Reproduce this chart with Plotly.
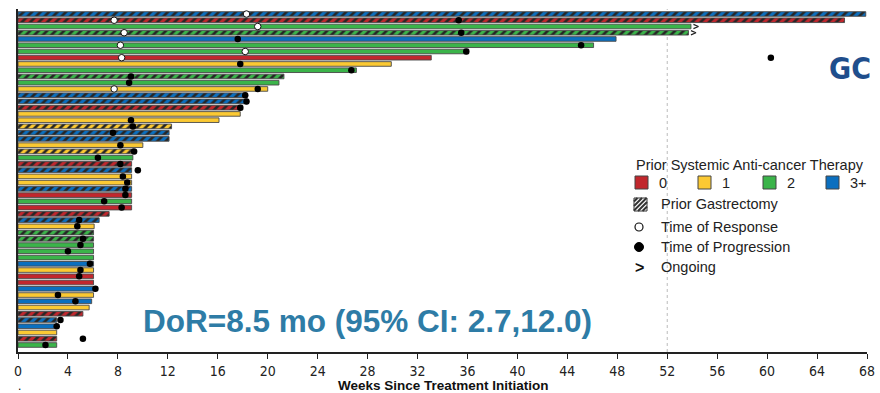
import plotly.graph_objects as go

# ---------------- data ----------------
therapy_labels = ["0", "1", "2", "3+"]
therapy = [3, 0, 2, 2, 3, 2, 2, 0, 1, 2, 2, 2, 1, 3, 3, 0, 1, 1, 1, 3, 3, 1, 1, 2, 0, 3, 1,
           1, 3, 0, 2, 0, 0, 3, 1, 2, 2, 2, 2, 2, 3, 1, 0, 0, 3, 1, 3, 1, 0, 3, 3, 1, 0, 2]
gastrectomy = [1, 1, 0, 1, 0, 0, 0, 0, 0, 0, 1, 0, 0, 1, 1, 1, 0, 0, 1, 1, 1, 0, 1, 0, 1, 1, 0,
               0, 1, 0, 0, 0, 1, 1, 0, 1, 1, 0, 0, 0, 0, 0, 0, 0, 0, 0, 0, 0, 1, 1, 0, 0, 1, 0]
duration = [67.9, 66.2, 53.9, 53.7, 47.9, 46.1, 36.1, 33.1, 29.9, 27.1, 21.3, 20.9, 20.0, 18.3,
            18.4, 18.0, 17.8, 16.1, 12.3, 12.1, 12.1, 10.0, 9.3, 9.2, 9.1, 9.1, 9.1, 9.1, 9.1,
            9.1, 9.1, 9.1, 7.3, 6.5, 6.1, 6.05, 6.05, 6.05, 6.05, 6.05, 6.05, 6.05, 6.05, 6.05,
            6.2, 6.05, 5.9, 5.7, 5.2, 3.1, 2.9, 3.1, 3.1, 3.1]
response = [18.3, 7.7, 19.2, 8.5, None, 8.2, 18.2, 8.3, None, None, None, None, 7.7, None,
            None, None, None, None, None, None, None, None, None, None, None, None, None,
            None, None, None, None, None, None, None, None, None, None, None, None, None,
            None, None, None, None, None, None, None, None, None, None, None, None, None, None]
progression = [None, 35.3, None, 35.5, 17.6, 45.1, 35.9, 60.3, 17.8, 26.7, 9.05, 8.9, 19.2,
               18.2, 18.3, 17.8, None, 9.05, 9.2, 7.6, None, 8.2, 9.3, 6.4, 8.2, 9.6, 8.4,
               8.75, 8.6, 8.6, 6.9, 8.3, None, 4.9, 4.75, None, 5.2, 5.0, 4.0, None, 5.76,
               5.0, 4.9, None, 6.2, 3.2, 4.6, None, None, 3.4, 3.1, None, 5.2, 2.2]
ongoing = [1, 0, 1, 1] + [0] * 50
x_ticks = list(range(0, 69, 4))

# ---------------- styles ----------------
colors = ["#c1272d", "#fbc933", "#3bb44a", "#0b6fbf"]
W, H = 880, 393
L, R, T, B = 18, 867, 9, 352
n = len(duration)
rows = list(range(1, n + 1))


def xp(px):
    return (px - L) / (R - L)


def yp(py):
    return (B - py) / (B - T)


fig = go.Figure()

# one bar trace per (therapy, gastrectomy) group so that the hatch is dark on colour
for t in range(4):
    for g in (0, 1):
        idx = [i for i in range(n) if therapy[i] == t and gastrectomy[i] == g]
        if not idx:
            continue
        fig.add_trace(go.Bar(
            y=[rows[i] for i in idx], x=[duration[i] for i in idx], base=0,
            orientation="h", width=0.74,
            marker=dict(
                color=colors[t],
                line=dict(color="#4a4a4a", width=0.9),
                pattern=dict(shape="/" if g else "", fillmode="replace",
                             bgcolor=colors[t], fgcolor="#262626", fgopacity=1,
                             size=6, solidity=0.45),
            ),
            showlegend=False, hoverinfo="skip",
        ))

ry = [r for r, v in zip(rows, response) if v is not None]
rx = [v for v in response if v is not None]
fig.add_trace(go.Scatter(
    x=rx, y=ry, mode="markers", showlegend=False, cliponaxis=False,
    marker=dict(symbol="circle", size=6.5, color="white", line=dict(color="#111", width=1)),
))

py_ = [r for r, v in zip(rows, progression) if v is not None]
px_ = [v for v in progression if v is not None]
fig.add_trace(go.Scatter(
    x=px_, y=py_, mode="markers", showlegend=False, cliponaxis=False,
    marker=dict(symbol="circle", size=6.5, color="#000"),
))

# "ongoing" chevrons (>) drawn at the end of each ongoing bar
cx, cy = [], []
for d, r, o in zip(duration, rows, ongoing):
    if o:
        cx += [d + 0.2, d + 0.6, d + 0.2, None]
        cy += [r - 0.33, r, r + 0.33, None]
fig.add_trace(go.Scatter(
    x=cx, y=cy, mode="lines", cliponaxis=False, showlegend=False, hoverinfo="skip",
    line=dict(color="#222", width=1.3),
))

# ---------------- legend (drawn) ----------------
legfont = dict(family="Liberation Sans, Arial, sans-serif", size=14.5, color="#222")
ann = []
shapes = [dict(type="line", xref="x", yref="paper", x0=52, x1=52, y0=0, y1=1,
               line=dict(color="#bbbbbb", width=1, dash="dot"), layer="below")]
ann.append(dict(x=xp(634), y=yp(165), xref="paper", yref="paper", xanchor="left",
                yanchor="middle", text="Prior Systemic Anti-cancer Therapy",
                showarrow=False, font=legfont))
sq_x = [635, 698, 763, 826]
for i, lab in enumerate(therapy_labels):
    shapes.append(dict(type="rect", xref="paper", yref="paper",
                       x0=xp(sq_x[i]), x1=xp(sq_x[i] + 13), y0=yp(189), y1=yp(176),
                       fillcolor=colors[i], line=dict(color="#444", width=1)))
    ann.append(dict(x=xp(sq_x[i] + 22), y=yp(182.5), xref="paper", yref="paper",
                    xanchor="left", yanchor="middle", text=lab, showarrow=False, font=legfont))

# hatched square
hx0, hx1, hy0, hy1 = 634, 647, 198, 211
shapes.append(dict(type="rect", xref="paper", yref="paper", x0=xp(hx0), x1=xp(hx1),
                   y0=yp(hy1), y1=yp(hy0), fillcolor="white", line=dict(color="#333", width=1)))
c = hx0 + hy0 + 3.5
while c < hx1 + hy1 - 2:
    xa = max(hx0, c - hy1)
    xb = min(hx1, c - hy0)
    shapes.append(dict(type="line", xref="paper", yref="paper",
                       x0=xp(xa), y0=yp(c - xa), x1=xp(xb), y1=yp(c - xb),
                       line=dict(color="#333", width=2)))
    c += 4.5

legend_rows = [(204.5, "Prior Gastrectomy"), (227, "Time of Response"),
               (247, "Time of Progression"), (267, "Ongoing")]
for yy, txt in legend_rows:
    ann.append(dict(x=xp(659), y=yp(yy), xref="paper", yref="paper", xanchor="left",
                    yanchor="middle", text=txt, showarrow=False, font=legfont))

shapes.append(dict(type="circle", xref="paper", yref="paper", x0=xp(635), x1=xp(643),
                   y0=yp(231), y1=yp(223), fillcolor="white", line=dict(color="#111", width=1.2)))
shapes.append(dict(type="circle", xref="paper", yref="paper", x0=xp(634.5), x1=xp(643.5),
                   y0=yp(251.5), y1=yp(242.5), fillcolor="#000", line=dict(color="#000", width=1)))
ann.append(dict(x=xp(639), y=yp(267), xref="paper", yref="paper", xanchor="center",
                yanchor="middle", text="<b>&gt;</b>", showarrow=False,
                font=dict(family="Liberation Sans", size=16, color="#111")))

# DoR text, GC label, axis title, stray dot
ann.append(dict(x=xp(367), y=yp(321), xref="paper", yref="paper", xanchor="center",
                yanchor="middle", text="<b>DoR=8.5 mo (95% CI: 2.7,12.0)</b>", showarrow=False,
                font=dict(family="Liberation Sans, Arial, sans-serif", size=31.5, color="#2e7ca6")))
ann.append(dict(x=xp(850), y=yp(68), xref="paper", yref="paper", xanchor="center",
                yanchor="middle", text="<b>GC</b>", showarrow=False,
                font=dict(family="Liberation Sans Narrow, DejaVu Sans Condensed, sans-serif",
                          size=30, color="#1f4e8c")))
ann.append(dict(x=xp(443), y=yp(385.5), xref="paper", yref="paper", xanchor="center",
                yanchor="middle", text="<b>Weeks Since Treatment Initiation</b>",
                showarrow=False,
                font=dict(family="Liberation Sans, Arial, sans-serif", size=13.5, color="#111")))
ann.append(dict(x=xp(19), y=yp(386), xref="paper", yref="paper", xanchor="center",
                yanchor="middle", text=".", showarrow=False,
                font=dict(family="Liberation Sans", size=12, color="#000")))

fig.update_layout(
    width=W, height=H,
    margin=dict(l=L, r=W - R, t=T, b=H - B),
    paper_bgcolor="white", plot_bgcolor="white",
    showlegend=False,
    annotations=ann, shapes=shapes,
    xaxis=dict(range=[0, 68], tickvals=x_ticks, ticks="outside", ticklen=5, tickwidth=1,
               tickcolor="#222", showline=True, linecolor="#222", linewidth=1.5,
               showgrid=False, zeroline=False, automargin=False,
               tickfont=dict(family="Liberation Sans Narrow, DejaVu Sans Condensed, sans-serif",
                             size=14, color="#222")),
    yaxis=dict(range=[n + 1.12, 0.2], showline=True, linecolor="#222", linewidth=1.5,
               showticklabels=False, ticks="", showgrid=False, zeroline=False,
               automargin=False),
)

fig.write_html("out.html")
